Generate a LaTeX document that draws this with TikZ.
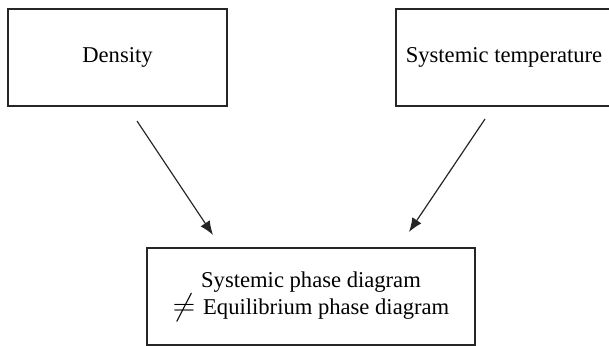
\documentclass[tikz,border=0pt]{standalone}
\usepackage{graphicx}
\usepackage{fontspec}
\setmainfont{Liberation Serif}
\usetikzlibrary{arrows.meta}
\newcommand{\bigneq}{\raisebox{-0.5pt}{\scalebox{1.5}{$\neq$}}}
\begin{document}
\begin{tikzpicture}[x=1pt,y=-1pt,
  boxnode/.style={draw=black!85,line width=1.6pt,rectangle,inner sep=0pt,
    font=\fontsize{22.6}{27}\selectfont,align=center},
  conn/.style={draw=black!85,line width=1.2pt,-{Latex[length=14pt,width=11pt]}}]
\useasboundingbox (0,0) rectangle (609,345);
\clip (0,0) rectangle (609,345);
\node[boxnode,minimum width=219pt,minimum height=97pt] (dens) at (117.5,57.5) {Density};
\node[boxnode,minimum width=216pt,minimum height=97pt] (temp) at (504,57.5) {Systemic temperature};
\node[boxnode,minimum width=328pt,minimum height=97pt] (phase) at (311,296.5)
  {Systemic phase diagram\\\bigneq\hspace{8pt}Equilibrium phase diagram};
\coordinate (a1) at (137,121);
\coordinate (a2) at (213,235);
\coordinate (b1) at (485,119);
\coordinate (b2) at (409,232);
\draw[conn] (a1) -- (a2);
\draw[conn] (b1) -- (b2);
\end{tikzpicture}
\end{document}
